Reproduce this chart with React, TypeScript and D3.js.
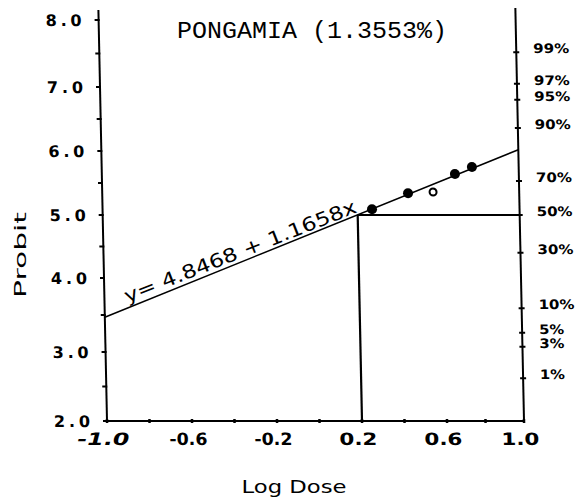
import React from "react";
import * as d3 from "d3";

// ---- data ----
const xTickValues = [-1.0, -0.6, -0.2, 0.2, 0.6, 1.0];
const xTickLabels = ["-1.0", "-0.6", "-0.2", "0.2", "0.6", "1.0"];
const xMinorTicks = [-0.8, -0.4, 0.0, 0.4, 0.8];
const yTickValues = [2, 3, 4, 5, 6, 7, 8];
const yTickLabels = ["2.0", "3.0", "4.0", "5.0", "6.0", "7.0", "8.0"];
const yMinorTicks = [2.5, 3.5, 4.5, 5.5, 6.5, 7.5];
const pctLabels = ["99%", "97%", "95%", "90%", "70%", "50%", "30%", "10%", "5%", "3%", "1%"];
const pctProbits = [7.52, 7.05, 6.8, 6.36, 5.53, 5.0, 4.4, 3.59, 3.26, 3.07, 2.62];
const logDose = [0.268, 0.439, 0.557, 0.668, 0.757];
const probitValues = [5.09, 5.34, 5.39, 5.64, 5.75];
const pointFilled = [true, true, false, true, true];
const fitX = [-1, 1];
const fitY = [3.47, 6.02];
const titleText = "PONGAMIA (1.3553%)";
const equationText = "y= 4.8468 + 1.1658x";

export default function App() {
  const W = 587;
  const H = 504;
  const x = d3.scaleLinear().domain([-1, 0.6, 1]).range([107, 447, 524]);
  const y = d3
    .scaleLinear()
    .domain([2, 3, 4, 5, 6, 7, 8])
    .range([421, 352, 278, 215, 151, 87, 20]);

  const x0 = x(-1);
  const x1 = x(1);
  const yBottom = y(2);
  const yTop = 9;

  const ld50X =
    fitX[0] + ((5 - fitY[0]) / (fitY[1] - fitY[0])) * (fitX[1] - fitX[0]);

  const fitLine = d3
    .line<number>()
    .x((_, i) => x(fitX[i]))
    .y((d) => y(d))(fitY);

  const font = "'DejaVu Sans', sans-serif";

  return (
    <svg
      width={W}
      height={H}
      style={{ position: "absolute", left: 0, top: 0, background: "#fff" }}
    >
      <rect width={W} height={H} fill="#fff" />
      <g transform={`translate(0,${yBottom}) skewX(1.2) translate(0,${-yBottom})`}>
        {/* axes */}
        <line x1={x0} y1={yTop + 1} x2={x0} y2={yBottom} stroke="#000" strokeWidth={2} />
        <line x1={x1} y1={yTop - 1} x2={x1} y2={yBottom} stroke="#000" strokeWidth={2} />
        <line x1={x0} y1={yBottom} x2={x1} y2={yBottom} stroke="#000" strokeWidth={1.8} />

        {/* left ticks */}
        {yTickValues.concat(yMinorTicks).map((v, i) => (
          <line key={"lt" + i} x1={x0 - 4} x2={x0 + 1} y1={y(v)} y2={y(v)} stroke="#000" strokeWidth={2} />
        ))}
        {yTickValues.map((v, i) => (
          <text
            key={"ll" + i}
            x={x0 - 17}
            y={y(v) + 6}
            textAnchor="end"
            fontFamily={font}
            fontSize={16}
            fontWeight="bold"
            textLength={36}
            lengthAdjust="spacing"
          >
            {yTickLabels[i]}
          </text>
        ))}

        {/* bottom ticks */}
        {xTickValues.concat(xMinorTicks).map((v, i) => (
          <line key={"bt" + i} x1={x(v)} x2={x(v)} y1={yBottom - 2} y2={yBottom + 2} stroke="#000" strokeWidth={2.5} />
        ))}
        {xTickValues.map((v, i) => (
          <text
            key={"bl" + i}
            x={x(v) - 4}
            y={yBottom + 24}
            textAnchor="middle"
            fontFamily={font}
            fontSize={17}
            fontStyle={i === 0 ? "italic" : "normal"}
            fontWeight="bold"
            textLength={i === 0 ? 52 : 38}
            lengthAdjust="spacingAndGlyphs"
          >
            {xTickLabels[i]}
          </text>
        ))}

        {/* right ticks */}
        {pctProbits.map((v, i) => (
          <line key={"rt" + i} x1={x1 - 3} x2={x1 + 3} y1={y(v)} y2={y(v)} stroke="#000" strokeWidth={2} />
        ))}
        {pctProbits.map((v, i) => (
          <text
            key={"rl" + i}
            x={x1 + 17}
            y={y(v) + 1}
            textAnchor="start"
            fontFamily={font}
            fontSize={13}
            fontWeight="bold"
            textLength={pctLabels[i].length === 3 ? 36 : 25}
            lengthAdjust="spacingAndGlyphs"
          >
            {pctLabels[i]}
          </text>
        ))}

        {/* LD50 guide lines */}
        <line x1={x(ld50X)} x2={x(ld50X)} y1={yBottom} y2={y(5)} stroke="#000" strokeWidth={2.2} />
        <line x1={x(ld50X)} x2={x1} y1={y(5)} y2={y(5)} stroke="#000" strokeWidth={1.8} />

        {/* regression line */}
        <path d={fitLine ?? ""} fill="none" stroke="#000" strokeWidth={1.5} />

        {/* points */}
        {logDose.map((d, i) =>
          pointFilled[i] ? (
            <circle key={"p" + i} cx={x(d)} cy={y(probitValues[i])} r={5} fill="#000" />
          ) : (
            <circle key={"p" + i} cx={x(d)} cy={y(probitValues[i]) + 2} r={3.5} fill="none" stroke="#000" strokeWidth={2} />
          )
        )}
      </g>

      {/* title */}
      <text
        x={312}
        y={38}
        textAnchor="middle"
        fontFamily="'Liberation Mono', monospace"
        fontSize={23}
        textLength={270}
        lengthAdjust="spacingAndGlyphs"
      >
        {titleText}
      </text>

      {/* equation */}
      <text
        transform="translate(240,251) rotate(-21.5)"
        textAnchor="middle"
        dominantBaseline="central"
        fontFamily={font}
        fontSize={19}
        textLength={248}
        lengthAdjust="spacingAndGlyphs"
      >
        {equationText}
      </text>

      {/* axis titles */}
      <text
        transform="translate(26,255) rotate(-90)"
        textAnchor="middle"
        fontFamily={font}
        fontSize={16}
        textLength={86}
        lengthAdjust="spacingAndGlyphs"
      >
        Probit
      </text>
      <text
        x={294}
        y={493}
        textAnchor="middle"
        fontFamily={font}
        fontSize={17}
        textLength={105}
        lengthAdjust="spacingAndGlyphs"
      >
        Log Dose
      </text>
    </svg>
  );
}
